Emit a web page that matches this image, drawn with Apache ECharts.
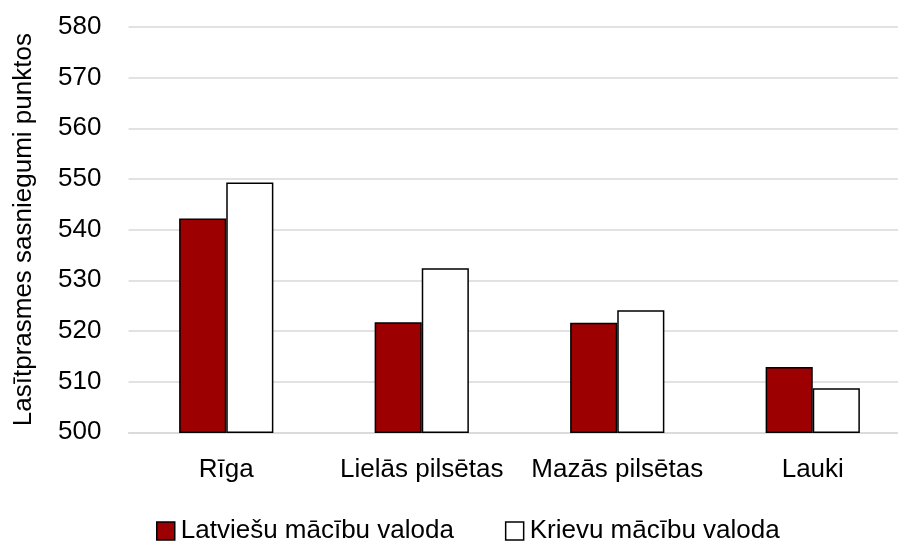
<!DOCTYPE html>
<html>
<head>
<meta charset="utf-8">
<script src="https://cdn.jsdelivr.net/npm/echarts@6/dist/echarts.min.js"></script>
<style>
  html, body { margin: 0; padding: 0; background: #fff; }
  #chart { width: 898px; height: 541px; }
</style>
</head>
<body>
<div id="chart"></div>
<script>
var categories = ['Rīga', 'Lielās pilsētas', 'Mazās pilsētas', 'Lauki'];
var seriesNames = ['Latviešu mācību valoda', 'Krievu mācību valoda'];
var latvianValues = [542.2, 521.7, 521.6, 512.9];
var russianValues = [549.3, 532.4, 524.1, 508.7];
var yTicks = { min: 500, max: 580, interval: 10 };
var yAxisTitle = 'Lasītprasmes sasniegumi punktos';

var FONT = '"Liberation Sans", Arial, sans-serif';
var chart = echarts.init(document.getElementById('chart'), null, { renderer: 'canvas' });
chart.setOption({
  animation: false,
  backgroundColor: '#ffffff',
  textStyle: { fontFamily: FONT, color: '#000' },
  grid: { left: 128.5, width: 782, top: 27, height: 405.3, containLabel: false, outerBoundsMode: 'none' },
  legend: {
    left: 151,
    top: 513,
    itemWidth: 18,
    itemHeight: 18,
    itemGap: 51,
    icon: 'rect',
    textStyle: { fontFamily: FONT, fontSize: 26, color: '#000', padding: [0, 0, 0, 1] },
    data: [
      { name: seriesNames[0], itemStyle: { color: '#9c0000', borderColor: '#000', borderWidth: 1.5 } },
      { name: seriesNames[1], itemStyle: { color: '#ffffff', borderColor: '#000', borderWidth: 1.5 } }
    ]
  },
  xAxis: {
    type: 'category',
    data: categories,
    axisLine: { show: true, lineStyle: { color: '#d9d9d9', width: 1.5 } },
    axisTick: { show: false },
    axisLabel: { fontFamily: FONT, fontSize: 26, color: '#000', margin: 25, interval: 0 }
  },
  yAxis: {
    type: 'value',
    min: yTicks.min,
    max: yTicks.max,
    interval: yTicks.interval,
    name: yAxisTitle,
    nameLocation: 'middle',
    nameGap: 92,
    nameTextStyle: { fontFamily: FONT, fontSize: 26, color: '#000' },
    axisLine: { show: false },
    axisTick: { show: false },
    axisLabel: { fontFamily: FONT, fontSize: 26, color: '#000', margin: 27 },
    splitLine: { show: true, lineStyle: { color: '#d9d9d9', width: 1.5 } }
  },
  series: [
    {
      name: seriesNames[0],
      type: 'bar',
      data: latvianValues,
      barGap: '0%',
      barCategoryGap: '51.8%',
      itemStyle: { color: '#9c0000', borderColor: '#000', borderWidth: 1.5 }
    },
    {
      name: seriesNames[1],
      type: 'bar',
      data: russianValues,
      barGap: '0%',
      barCategoryGap: '51.8%',
      itemStyle: { color: '#ffffff', borderColor: '#000', borderWidth: 1.5 }
    }
  ]
});
</script>
</body>
</html>
